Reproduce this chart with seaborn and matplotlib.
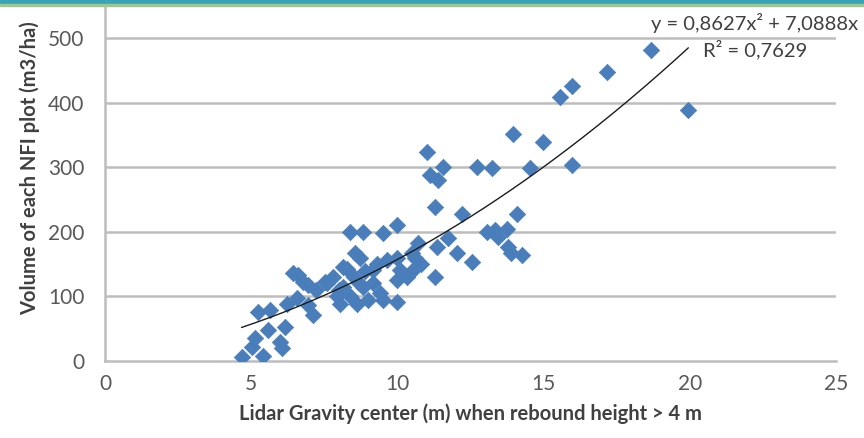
import numpy as np
import pandas as pd
import matplotlib
matplotlib.use("Agg")
import matplotlib.pyplot as plt
import seaborn as sns
from matplotlib.patches import Rectangle

# ---- data ----
gravity_center = [
    4.67, 5.41, 5.02, 5.13, 5.59, 5.98, 6.04, 6.16, 5.24, 5.64, 6.21, 6.56, 6.44,
    6.78, 6.94, 7.12, 6.94, 7.58, 7.80, 7.92, 6.60, 7.52, 8.27, 8.14,
    8.38, 8.83, 9.52, 9.97, 8.55, 8.72, 8.14, 9.18, 9.63, 10.09, 10.32, 9.97,
    9.52, 9.97, 8.38, 8.83, 8.04, 8.61, 9.17, 9.40,
    7.20, 8.00, 8.50, 8.90, 9.30, 10.00, 10.80, 10.60, 9.00, 8.70, 10.50,
    10.72, 10.49, 11.29, 11.34, 11.74, 12.03, 12.54, 11.29, 12.20, 14.08,
    11.00, 11.11, 11.57, 11.40, 12.71, 13.22, 14.53, 13.96, 14.99,
    13.05, 13.34, 13.74, 13.44, 13.79, 13.90, 14.25,
    15.96, 15.56, 15.96, 17.16, 18.69, 19.95,
]
volume = [
    6, 8, 22, 36, 48, 30, 20, 53, 76, 79, 89, 97, 136,
    123, 118, 71, 87, 120, 130, 100, 133, 123, 143, 115,
    200, 200, 198, 210, 167, 159, 146, 141, 156, 141, 130, 125,
    94, 92, 100, 115, 89, 89, 120, 105,
    110, 110, 130, 140, 150, 160, 150, 160, 95, 120, 140,
    182, 167, 130, 177, 190, 167, 153, 239, 228, 228,
    324, 288, 301, 280, 301, 298, 298, 352, 339,
    200, 203, 205, 192, 177, 167, 164,
    303, 409, 425, 448, 481, 389,
]
trend_coef = [0.8627, 7.0888, 0.0]   # y = a x^2 + b x + c
x_ticks = [0, 5, 10, 15, 20, 25]
y_ticks = [0, 100, 200, 300, 400, 500]

df = pd.DataFrame({"x": gravity_center, "y": volume})

# ---- figure ----
sns.set_theme(style="white")
plt.rcParams["font.family"] = ["Lato", "DejaVu Sans"]

W, H = 864, 438
fig = plt.figure(figsize=(W / 100, H / 100), dpi=100)
left, right, bottom_px, top_px = 105, 836, 361, 0
ax = fig.add_axes([left / W, 1 - bottom_px / H, (right - left) / W, (bottom_px - top_px) / H])

grid_c = "#bdbdbd"
for yv in y_ticks[1:]:
    ax.axhline(yv, color=grid_c, lw=1.8, zorder=0)

sns.scatterplot(data=df, x="x", y="y", marker="D", s=70, color="#4a7ebb",
                edgecolor="#4a7ebb", linewidth=0.5, ax=ax, zorder=3)

xs = np.linspace(min(gravity_center), max(gravity_center), 200)
ys = np.polyval(trend_coef, xs)
ax.plot(xs, ys, color="#1c1c1c", lw=1.0, zorder=4)

ax.set_xlim(0, 25)
ax.set_ylim(0, bottom_px / 0.646)
ax.set_xticks(x_ticks)
ax.set_yticks(y_ticks)
ax.set_xticklabels([str(v) for v in x_ticks])
ax.set_yticklabels([str(v) for v in y_ticks])
ax.tick_params(axis="both", labelsize=15, colors=grid_c, width=1.3)
ax.tick_params(axis="x", direction="inout", length=8, pad=5)
ax.tick_params(axis="y", direction="out", length=7, pad=8)
for lab in ax.get_xticklabels() + ax.get_yticklabels():
    lab.set_color("#595959")

for side in ["top", "right"]:
    ax.spines[side].set_visible(False)
for side in ["left", "bottom"]:
    ax.spines[side].set_color(grid_c)
    ax.spines[side].set_linewidth(1.8)

ax.set_xlabel("")
ax.set_ylabel("")
fig.text((left + right) / 2 / W, 1 - 414 / H,
         "Lidar Gravity center (m) when rebound height > 4 m",
         ha="center", va="center", fontsize=14.5, fontweight="bold", color="#404040")
fig.text(30 / W, 1 - 168 / H, "Volume of each NFI plot (m3/ha)",
         ha="center", va="center", rotation=90, fontsize=14.5, fontweight="bold",
         color="#404040")

fig.text(651 / W, 1 - 23 / H, "y = 0,8627x² + 7,0888x", ha="left", va="center",
         fontsize=14.5, color="#404040")
fig.text(703 / W, 1 - 50 / H, "R² = 0,7629", ha="left", va="center",
         fontsize=14.5, color="#404040")

# teal band at top
fig.patches.append(Rectangle((0, 1 - 4 / H), 1, 4 / H, transform=fig.transFigure,
                             color="#3aa3b8", zorder=10))
fig.patches.append(Rectangle((0, 1 - 6 / H), 1, 2 / H, transform=fig.transFigure,
                             color="#9cc98a", zorder=10))

fig.savefig("out.png", dpi=100)
